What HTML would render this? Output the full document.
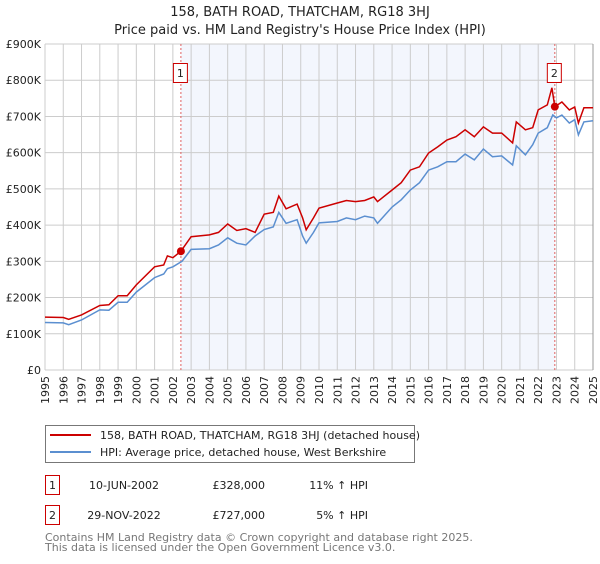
<!DOCTYPE html>
<html><head><meta charset="utf-8"><style>
body{margin:0;background:#fff;font-family:"DejaVu Sans","Liberation Sans",sans-serif;}
svg text{font-family:"DejaVu Sans","Liberation Sans",sans-serif;}
</style></head><body>
<svg id="chart" width="600" height="560" xmlns="http://www.w3.org/2000/svg">
<text x="300" y="16" text-anchor="middle" font-size="13" fill="#222">158, BATH ROAD, THATCHAM, RG18 3HJ</text>
<text x="300" y="34" text-anchor="middle" font-size="13" fill="#222">Price paid vs. HM Land Registry's House Price Index (HPI)</text>
<g id="plot"></g>
<g>
<rect x="45.5" y="425.5" width="369" height="37" fill="#fff" stroke="#777"/>
<line x1="50" y1="435" x2="91" y2="435" stroke="#cc0000" stroke-width="2"/>
<text x="100" y="439" font-size="11" fill="#222">158, BATH ROAD, THATCHAM, RG18 3HJ (detached house)</text>
<line x1="50" y1="452" x2="91" y2="452" stroke="#5b8fd0" stroke-width="2"/>
<text x="100" y="456" font-size="11" fill="#222">HPI: Average price, detached house, West Berkshire</text>
</g>
<g font-size="11" fill="#222">
<rect x="45.5" y="475.5" width="14" height="19" fill="#fff" stroke="#cc0000"/>
<text x="52.5" y="489" text-anchor="middle">1</text>
<text x="124" y="489" text-anchor="middle">10-JUN-2002</text>
<text x="265" y="489" text-anchor="end">£328,000</text>
<text x="368" y="489" text-anchor="end">11% ↑ HPI</text>
<rect x="45.5" y="505.5" width="14" height="19" fill="#fff" stroke="#cc0000"/>
<text x="52.5" y="519" text-anchor="middle">2</text>
<text x="124" y="519" text-anchor="middle">29-NOV-2022</text>
<text x="265" y="519" text-anchor="end">£727,000</text>
<text x="368" y="519" text-anchor="end">5% ↑ HPI</text>
</g>
<text x="45" y="541" font-size="11" fill="#777">Contains HM Land Registry data © Crown copyright and database right 2025.</text>
<text x="45" y="551" font-size="11" fill="#777">This data is licensed under the Open Government Licence v3.0.</text>
</svg>
<script>
const hpiDates=[1995,1996,1996.3,1997,1998,1998.5,1999,1999.5,2000,2001,2001.5,2001.7,2002,2002.5,2003,2004,2004.5,2005,2005.5,2006,2006.5,2007,2007.5,2007.8,2008.2,2008.8,2009.1,2009.3,2009.7,2010,2011,2011.5,2012,2012.5,2013,2013.2,2014,2014.5,2015,2015.5,2016,2016.5,2017,2017.5,2018,2018.5,2019,2019.5,2020,2020.6,2020.8,2021.3,2021.7,2022,2022.5,2022.8,2023,2023.3,2023.7,2024,2024.2,2024.5,2025];
const hpiValues=[131,130,125,138,166,165,187,187,215,255,265,280,285,300,333,335,345,365,350,345,370,388,395,435,405,415,370,350,380,406,410,420,415,425,420,405,450,470,497,517,552,561,575,575,596,580,610,589,591,566,619,594,622,654,669,704,696,704,682,691,649,685,688];
const redDates=[1995,1996,1996.3,1997,1998,1998.5,1999,1999.5,2000,2001,2001.5,2001.7,2002,2002.44,2003,2004,2004.5,2005,2005.5,2006,2006.5,2007,2007.5,2007.8,2008.2,2008.8,2009.1,2009.3,2009.7,2010,2011,2011.5,2012,2012.5,2013,2013.2,2014,2014.5,2015,2015.5,2016,2016.5,2017,2017.5,2018,2018.5,2019,2019.5,2020,2020.6,2020.8,2021.3,2021.7,2022,2022.5,2022.75,2022.91,2023.3,2023.7,2024,2024.2,2024.5,2025];
const redValues=[146,145,140,152,178,180,205,205,235,285,290,315,310,328,368,373,380,403,385,390,380,430,435,480,445,458,420,387,420,447,461,468,465,468,478,465,497,517,552,561,599,616,635,644,663,644,671,654,654,627,685,663,669,718,732,779,727,740,718,726,682,724,724];
const yTicks=[0,100,200,300,400,500,600,700,800,900];
const yTickLabels=["£0","£100K","£200K","£300K","£400K","£500K","£600K","£700K","£800K","£900K"];
const xYears=[];for(let y=1995;y<=2025;y++)xYears.push(y);
const saleDates=[2002.44,2022.91];
const saleValues=[328,727];
const saleLabels=["1","2"];

const NS="http://www.w3.org/2000/svg";
const X0=45,X1=593,Y0=370,Y1=44;
const xs=d=>X0+(d-1995)/(2025-1995)*(X1-X0);
const ys=v=>Y0-v/900*(Y0-Y1);
const g=document.getElementById('plot');
function mk(tag,attrs,parent){const e=document.createElementNS(NS,tag);for(const k in attrs)e.setAttribute(k,attrs[k]);(parent||g).appendChild(e);return e;}
const bg=mk('rect',{x:xs(saleDates[0]),y:Y1,width:xs(saleDates[1])-xs(saleDates[0]),height:Y0-Y1,fill:'#f3f6fd'});


yTicks.forEach((t,i)=>{
 const l=mk('line',{x1:X0,x2:X1,y1:ys(t),y2:ys(t),stroke:'#ccc','stroke-width':1});
 
 
 const tx=mk('text',{x:X0-4,y:ys(t)+4,'text-anchor':'end','font-size':11,fill:'#222'});
 tx.textContent=yTickLabels[i];
 
 
});
xYears.forEach(yr=>{
 const l=mk('line',{x1:xs(yr),x2:xs(yr),y1:Y1,y2:Y0,stroke:'#ccc','stroke-width':1});
 
 
 const tx=mk('text',{transform:`translate(${xs(yr)+4},${Y0+6}) rotate(-90)`,'text-anchor':'end','font-size':11,fill:'#222'});
 tx.textContent=yr;
 
 
});
const rb=mk('line',{x1:X1,x2:X1,y1:Y1,y2:Y0,stroke:'#999','stroke-width':1});


saleDates.forEach((d,i)=>{
 const l=mk('line',{x1:xs(d),x2:xs(d),y1:Y1,y2:Y0,stroke:'#e06060','stroke-width':1,'stroke-dasharray':'2,2'});
 
 
 const r=mk('rect',{x:xs(d)-7.5,y:63.5,width:14,height:19,fill:'#fff',stroke:'#cc0000'});
 
 
 const t=mk('text',{x:xs(d)-0.5,y:77,'text-anchor':'middle','font-size':11,fill:'#222'});
 t.textContent=saleLabels[i];
 
 
});
function path(dates,vals){return dates.map((d,i)=>(i?'L':'M')+xs(d).toFixed(1)+','+ys(vals[i]).toFixed(1)).join(' ');}
const hp=mk('path',{d:path(hpiDates,hpiValues),fill:'none',stroke:'#5b8fd0','stroke-width':1.5});


const rp=mk('path',{d:path(redDates,redValues),fill:'none',stroke:'#cc0000','stroke-width':1.5});


saleDates.forEach((d,i)=>{
 const c=mk('circle',{cx:xs(d),cy:ys(saleValues[i]),r:4,fill:'#cc0000'});
 
 
});
</script>
</body></html>
